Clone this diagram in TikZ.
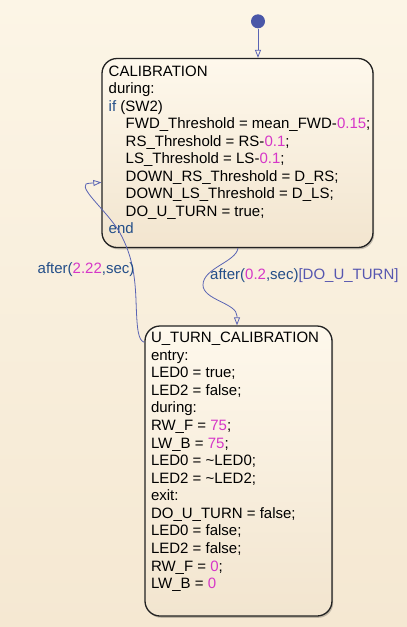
\documentclass[tikz,border=0pt]{standalone}
\usepackage{fontspec}
\setmainfont{Liberation Sans}
\usetikzlibrary{arrows.meta,calc,shadows}
\definecolor{bg}{HTML}{FBF3E3}
\definecolor{bgtop}{HTML}{FCF5E6}
\definecolor{bgbot}{HTML}{F5E8D2}
\definecolor{boxtop}{HTML}{FEF8EC}
\definecolor{boxbot}{HTML}{F2E5CF}
\definecolor{border}{HTML}{222222}
\definecolor{trans}{HTML}{5A64B4}
\definecolor{dotc}{HTML}{4A57A8}
\definecolor{kwc}{HTML}{234E88}
\definecolor{condc}{HTML}{5656B0}
\definecolor{numc}{HTML}{D636C8}
\newcommand{\kw}[1]{\textcolor{kwc}{#1}}
\newcommand{\mg}[1]{\textcolor{numc}{#1}}
\newcommand{\myind}{\hspace*{17pt}}
\tikzset{
  statebox/.style={draw=border, line width=1.3pt, rounded corners=15pt,
    top color=boxtop, bottom color=boxbot,
    drop shadow={shadow xshift=1.2pt, shadow yshift=-1.8pt, opacity=0.22, fill=black}},
  txt/.style={inner sep=0pt, font=\fontsize{15}{17.5}\selectfont, text=black},
  lab/.style={inner sep=0pt, font=\fontsize{15}{17.5}\selectfont, text=kwc},
  transline/.style={draw=trans, line width=0.8pt,
    -{Triangle[open, length=8pt, width=6pt]}},
}
\begin{document}
\begin{tikzpicture}[x=1pt,y=-1pt]
\useasboundingbox[top color=bgtop, bottom color=bgbot] (0,0) rectangle (407,627);

% states
\node[statebox, minimum width=271pt, minimum height=189pt, inner sep=0pt] (cal) at (237.5,153) {};
\node[statebox, minimum width=187pt, minimum height=290pt, inner sep=0pt] (ut) at (238.5,471) {};

\node[txt, anchor=base west] (caltext) at (108.5,76) {%
\begin{tabular}[t]{@{}l@{}}
CALIBRATION\\
during:\\
\kw{if} (SW2)\\
\myind FWD\_Threshold = mean\_FWD-\mg{0.15};\\
\myind RS\_Threshold = RS-\mg{0.1};\\
\myind LS\_Threshold = LS-\mg{0.1};\\
\myind DOWN\_RS\_Threshold = D\_RS;\\
\myind DOWN\_LS\_Threshold = D\_LS;\\
\myind DO\_U\_TURN = true;\\
\kw{end}
\end{tabular}};

\node[txt, anchor=base west] (uttext) at (150.8,342.7) {%
\fontsize{15}{17.57}\selectfont
\begin{tabular}[t]{@{}l@{}}
U\_TURN\_CALIBRATION\\
entry:\\
LED0 = true;\\
LED2 = false;\\
during:\\
RW\_F = \mg{75};\\
LW\_B = \mg{75};\\
LED0 = \textasciitilde LED0;\\
LED2 = \textasciitilde LED2;\\
exit:\\
DO\_U\_TURN = false;\\
LED0 = false;\\
LED2 = false;\\
RW\_F = \mg{0};\\
LW\_B = \mg{0}
\end{tabular}};

% default transition
\node[circle, fill=dotc, minimum size=14pt, inner sep=0pt] (init) at (258,21.3) {};
\draw[transline] (init) -- (init |- cal.north);

% CALIBRATION -> U_TURN_CALIBRATION
\coordinate (t2s) at ($(cal.south)+(0.5,0)$);
\coordinate (t2e) at ($(ut.north)+(-1.5,0)$);
\draw[transline] (t2s) .. controls (236,262) and (203,268) .. (203,285)
  .. controls (203,300) and (237,303) .. (237,316) -- (t2e);
\node[lab, anchor=base west] (lab2) at (210,279.5)
  {after(\mg{0.2},sec)\textcolor{condc}{[DO\_U\_TURN]}};

% U_TURN_CALIBRATION -> CALIBRATION
\coordinate (t3s) at ($(ut.north west)+(0,17)$);
\coordinate (t3e) at ($(cal.north west)+(0,124.5)$);
\draw[transline] (t3s) .. controls (138,340) and (137,330) .. (136,300)
  .. controls (135,275) and (132,255) .. (120,233)
  .. controls (108,212) and (80,190) .. (86,184)
  .. controls (88,183) and (94,183) .. (t3e);
\node[lab, anchor=base west] (lab3) at (37.5,273)
  {after(\mg{2.22},sec)};
\end{tikzpicture}
\end{document}
